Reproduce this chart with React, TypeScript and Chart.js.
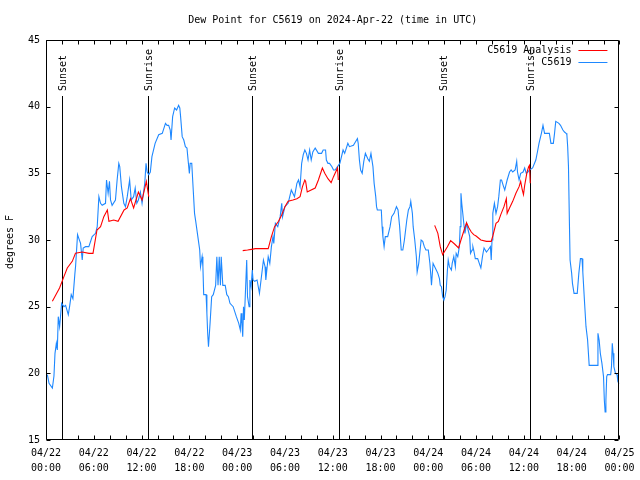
import React, { useEffect, useRef } from "react";
import { Chart, registerables } from "chart.js";

Chart.register(...registerables);

const titleText = "Dew Point for C5619 on 2024-Apr-22 (time in UTC)";
const yTitle = "degrees F";
const seriesNames = ["C5619 Analysis", "C5619"];
const seriesColors = ["#ff0000", "#1e88ff"];

const dateLabels = ["04/22", "04/22", "04/22", "04/22", "04/23", "04/23", "04/23", "04/23", "04/24", "04/24", "04/24", "04/24", "04/25"];
const timeLabels = ["00:00", "06:00", "12:00", "18:00", "00:00", "06:00", "12:00", "18:00", "00:00", "06:00", "12:00", "18:00", "00:00"];

const eventHours = [1.96, 12.75, 25.9, 36.75, 49.9, 60.8];
const eventLabels = ["Sunset", "Sunrise", "Sunset", "Sunrise", "Sunset", "Sunrise"];

// observed dew point (hours since 04/22 00:00 UTC, degrees F)
const obsHours = [
  0.17, 0.38, 0.8, 1.0, 1.13, 1.3, 1.42, 1.54, 1.71, 1.96, 2.25, 2.46, 2.8, 2.96, 3.17, 3.38, 3.63, 3.71, 3.96, 4.13,
  4.34, 4.55, 4.67, 4.97, 5.38, 5.8, 6.22, 6.43, 6.64, 6.85, 7.05, 7.47, 7.6, 7.8, 7.97, 8.1, 8.3, 8.72, 8.93, 9.14,
  9.26, 9.47, 9.77, 9.98, 10.2, 10.5, 10.7, 11.0, 11.2, 11.4, 11.6, 11.85, 12.06, 12.4, 12.56, 12.7, 12.9, 13.1, 13.3, 13.7,
  14.15, 14.6, 15.0, 15.2, 15.4, 15.6, 15.7, 15.9, 16.15, 16.4, 16.65, 16.8, 16.9, 17.1, 17.3, 17.5, 17.7, 17.8, 18.0, 18.1,
  18.3, 18.5, 18.65, 18.8, 19.1, 19.3, 19.4, 19.6, 19.7, 19.8, 20.1, 20.2, 20.3, 20.4, 20.6, 20.8, 21.0, 21.3, 21.45, 21.6,
  21.75, 21.9, 22.0, 22.2, 22.5, 22.7, 22.9, 23.1, 23.5, 23.9, 24.2, 24.4, 24.5, 24.6, 24.7, 24.8, 24.9, 25.1, 25.2, 25.3,
  25.5, 25.6, 25.75, 25.9, 26.0, 26.2, 26.5, 26.8, 27.3, 27.5, 27.6, 27.9, 28.1, 28.3, 28.5, 28.6, 28.8, 29.1, 29.4, 29.6,
  29.7, 30.0, 30.4, 30.8, 31.2, 31.5, 31.7, 31.9, 32.1, 32.3, 32.5, 32.7, 32.9, 33.1, 33.3, 33.5, 33.8, 34.2, 34.6, 34.8,
  35.1, 35.2, 35.4, 35.6, 35.9, 36.1, 36.3, 36.6, 36.9, 37.3, 37.5, 37.9, 38.1, 38.6, 38.9, 39.1, 39.2, 39.35, 39.5, 39.7,
  39.9, 40.1, 40.4, 40.6, 40.8, 41.05, 41.2, 41.4, 41.5, 41.6, 42.1, 42.2, 42.3, 42.45, 42.6, 42.9, 43.2, 43.4, 43.7, 44.0,
  44.2, 44.4, 44.6, 44.8, 45.0, 45.3, 45.5, 45.7, 45.8, 46.0, 46.1, 46.3, 46.5, 46.6, 46.8, 47.1, 47.3, 47.5, 47.7, 48.0,
  48.2, 48.3, 48.4, 48.6, 48.8, 49.0, 49.2, 49.4, 49.5, 49.65, 49.8, 49.96, 50.1, 50.25, 50.4, 50.5, 50.65, 50.9, 51.0, 51.2,
  51.4, 51.5, 51.7, 51.9, 52.0, 52.1, 52.2, 52.5, 52.6, 52.8, 53.0, 53.2, 53.3, 53.5, 53.6, 53.7, 53.9, 54.2, 54.4, 54.6,
  54.8, 54.9, 55.0, 55.3, 55.5, 55.8, 55.9, 56.0, 56.1, 56.3, 56.5, 56.7, 56.85, 57.05, 57.2, 57.4, 57.6, 57.7, 57.9, 58.2,
  58.4, 58.6, 58.9, 59.1, 59.2, 59.4, 59.6, 59.9, 60.1, 60.3, 60.5, 60.7, 61.1, 61.5, 61.7, 61.9, 62.2, 62.4, 62.6, 63.0,
  63.2, 63.4, 63.7, 63.85, 64.0, 64.4, 64.6, 64.9, 65.1, 65.3, 65.4, 65.5, 65.6, 65.7, 65.8, 66.0, 66.1, 66.3, 66.7, 66.9,
  67.1, 67.3, 67.4, 67.6, 67.8, 68.0, 68.2, 68.6, 69.0, 69.2, 69.3, 69.45, 69.6, 69.8, 70.0, 70.1, 70.2, 70.3, 70.4, 70.5,
  70.9, 71.0, 71.1, 71.2, 71.3, 71.5, 71.7, 71.8, 71.95,
];
const obsValues = [
  19.9, 19.25, 18.9, 19.8, 21.5, 22.25, 21.75, 24.25, 23.5, 25.25, 25.0, 25.1, 24.4, 25.0, 25.9, 25.6, 27.5, 28.0, 30.4, 30.1,
  29.75, 28.5, 29.4, 29.5, 29.5, 30.25, 30.5, 31.0, 33.25, 32.75, 32.6, 32.75, 34.5, 33.5, 34.4, 33.0, 32.6, 33.0, 34.5, 35.75,
  35.5, 34.0, 32.75, 32.5, 33.25, 34.5, 33.0, 33.25, 33.9, 32.75, 33.0, 33.6, 32.75, 34.25, 35.75, 35.1, 34.9, 35.1, 36.25, 37.25,
  37.9, 38.0, 38.75, 38.6, 38.6, 38.25, 37.5, 39.25, 39.9, 39.75, 40.1, 39.9, 39.25, 37.75, 37.5, 37.0, 36.9, 36.25, 35.0, 35.75,
  35.75, 33.6, 32.0, 31.4, 30.1, 29.25, 28.0, 28.75, 28.0, 25.9, 25.9, 24.5, 23.0, 22.0, 23.75, 25.75, 25.9, 26.6, 28.75, 26.6,
  28.75, 26.6, 28.75, 26.6, 26.6, 25.9, 25.75, 25.25, 25.0, 24.25, 23.75, 23.25, 24.5, 23.75, 22.75, 25.0, 24.0, 27.0, 28.5, 25.75,
  25.0, 27.0, 26.5, 27.75, 27.0, 26.9, 27.0, 26.0, 28.5, 28.0, 27.0, 28.75, 28.25, 29.5, 30.25, 29.75, 31.25, 31.0, 31.75, 32.75,
  31.75, 32.5, 32.75, 33.75, 33.25, 34.25, 34.5, 34.0, 35.75, 36.4, 36.75, 36.5, 36.0, 36.75, 36.0, 36.6, 36.9, 36.5, 36.5, 36.75,
  36.75, 36.0, 35.75, 35.75, 35.5, 35.25, 35.25, 35.5, 35.75, 36.75, 36.5, 37.25, 37.0, 37.1, 37.4, 37.6, 37.25, 36.0, 35.25, 35.0,
  35.9, 36.5, 36.1, 35.9, 36.5, 35.5, 34.25, 33.25, 32.5, 32.25, 32.25, 31.0, 30.25, 29.5, 30.25, 30.25, 31.0, 31.75, 32.0, 32.5,
  32.25, 31.0, 29.25, 29.25, 30.0, 31.5, 32.25, 32.5, 32.9, 32.0, 31.0, 30.0, 28.75, 27.6, 28.25, 30.0, 29.9, 29.5, 29.25, 29.25,
  28.25, 27.5, 26.6, 28.25, 28.0, 27.75, 27.5, 27.1, 26.6, 26.5, 25.75, 25.5, 25.75, 26.25, 27.75, 28.5, 28.0, 27.75, 28.25, 28.75,
  28.0, 29.0, 28.75, 29.5, 31.0, 33.5, 32.75, 31.0, 30.5, 31.25, 30.75, 30.25, 29.0, 29.25, 29.5, 29.25, 28.6, 28.6, 28.25, 27.9,
  28.75, 29.1, 29.4, 29.1, 29.25, 29.5, 28.5, 30.0, 32.0, 32.75, 32.0, 32.5, 33.25, 34.5, 34.5, 34.1, 33.75, 34.0, 34.5, 35.1,
  35.25, 35.1, 35.25, 35.9, 35.1, 34.5, 35.0, 35.1, 35.4, 35.0, 35.1, 35.25, 35.4, 36.0, 36.6, 37.25, 38.0, 38.6, 38.0, 38.0,
  38.0, 37.25, 37.25, 38.0, 38.9, 38.75, 38.6, 38.25, 38.1, 38.0, 37.9, 37.0, 35.5, 31.9, 28.5, 27.5, 26.75, 26.0, 26.0, 27.5,
  28.6, 28.6, 27.6, 25.5, 23.5, 22.5, 20.6, 20.6, 20.6, 20.6, 23.0, 22.5, 21.5, 20.75, 19.75, 18.0, 17.1, 18.0, 19.75, 19.9,
  19.9, 20.5, 22.25, 21.5, 20.5, 20.0, 19.9, 19.4, 19.2,
];

// analysis dew point; null marks the gaps between analysis segments
const anaHours = [
  0.8, 1.7, 2.25, 2.67, 3.3, 3.7, 4.55, 5.4, 5.9, 6.4, 6.85, 7.26, 7.7, 7.9, 8.5, 9.05, 9.8, 10.2, 10.6, 11.0, 11.6, 12.06, 12.6, 12.9,
  18.0,
  24.7, 25.3, 25.8, 26.3, 27.9, 28.3, 28.7, 29.2, 29.6, 30.0, 30.4, 31.0, 31.5, 31.9, 32.2, 32.5, 32.6, 32.8, 33.1, 33.8, 34.2, 34.7, 35.0, 35.4, 35.8, 36.1, 36.6, 36.7,
  42.0,
  48.8, 49.2, 49.5, 49.8, 50.0, 50.4, 50.8, 51.3, 51.8, 52.1, 52.5, 52.8, 53.1, 53.4, 53.7, 54.0, 54.6, 55.3, 55.9, 56.1, 56.5, 56.8, 57.1, 57.5, 57.8, 57.9, 58.2, 58.6, 59.0, 59.4, 59.6, 59.8, 59.95, 60.1, 60.4, 60.6, 60.7, 60.8,
];
const anaValues = [
  25.4, 26.4, 27.25, 27.9, 28.4, 29.0, 29.1, 29.0, 29.0, 30.75, 31.0, 31.75, 32.25, 31.4, 31.5, 31.4, 32.25, 32.4, 33.1, 32.4, 33.6, 33.0, 34.4, 33.25,
  null,
  29.2, 29.25, 29.3, 29.35, 29.35, 30.25, 31.0, 31.4, 31.9, 32.5, 32.9, 33.0, 33.1, 33.25, 34.0, 34.5, 34.4, 33.6, 33.7, 33.9, 34.5, 35.4, 35.0, 34.6, 34.3, 34.75, 35.4, 34.5,
  null,
  31.1, 30.5, 29.5, 28.9, 29.1, 29.5, 29.95, 29.7, 29.4, 30.0, 30.75, 31.3, 30.9, 30.6, 30.4, 30.3, 30.0, 29.9, 29.9, 30.3, 31.25, 31.4, 31.9, 32.5, 33.1, 32.0, 32.4, 32.9, 33.5, 34.0, 34.4, 33.75, 33.4, 34.1, 35.1, 35.5, 35.6, 34.25,
];

const FONT = "'DejaVu Sans Mono', 'Liberation Mono', monospace";

const overlay = {
  id: "overlay",
  beforeDatasetsDraw(chart: any) {
    const { ctx, chartArea: a, scales } = chart;
    const x = scales.x;
    ctx.save();
    ctx.strokeStyle = "#000";
    ctx.fillStyle = "#000";
    ctx.lineWidth = 1;
    ctx.font = `10px ${FONT}`;
    eventHours.forEach((h, i) => {
      const px = Math.round(x.getPixelForValue(h)) + 0.5;
      ctx.beginPath();
      ctx.moveTo(px, a.top + 56);
      ctx.lineTo(px, a.bottom);
      ctx.stroke();
      ctx.save();
      ctx.translate(px + 1, a.top + 51);
      ctx.rotate(-Math.PI / 2);
      ctx.textAlign = "left";
      ctx.textBaseline = "middle";
      ctx.fillText(eventLabels[i], 0, 0);
      ctx.restore();
    });
    ctx.restore();
  },
  afterDatasetsDraw(chart: any) {
    const { ctx, chartArea: a, scales } = chart;
    const x = scales.x;
    const y = scales.y;
    ctx.save();
    ctx.strokeStyle = "#000";
    ctx.lineWidth = 1;
    const L = Math.round(a.left) + 0.5;
    const R = Math.round(a.right) - 0.5;
    const T = Math.round(a.top) + 0.5;
    const B = Math.round(a.bottom) - 0.5;
    ctx.beginPath();
    ctx.rect(L, T, R - L, B - T);
    ctx.stroke();
    ctx.beginPath();
    for (let h = 0; h <= 72; h += 2) {
      const px = Math.round(x.getPixelForValue(h)) + 0.5;
      ctx.moveTo(px, B);
      ctx.lineTo(px, B - 4);
      ctx.moveTo(px, T);
      ctx.lineTo(px, T + 4);
    }
    for (let v = 15; v <= 45; v += 5) {
      const py = Math.round(y.getPixelForValue(v)) + 0.5;
      ctx.moveTo(L, py);
      ctx.lineTo(L + 4, py);
      ctx.moveTo(R, py);
      ctx.lineTo(R - 4, py);
    }
    ctx.stroke();

    ctx.fillStyle = "#000";
    ctx.font = `10px ${FONT}`;
    ctx.textAlign = "center";
    ctx.textBaseline = "middle";
    ctx.fillText(titleText, (a.left + a.right) / 2, 20.5);

    ctx.save();
    ctx.translate(10, (a.top + a.bottom) / 2 + 2);
    ctx.rotate(-Math.PI / 2);
    ctx.fillText(yTitle, 0, 0);
    ctx.restore();

    ctx.textAlign = "right";
    seriesNames.forEach((name, i) => {
      const ly = a.top + 10 + i * 12;
      ctx.fillStyle = "#000";
      ctx.fillText(name, a.right - 48, ly);
      ctx.strokeStyle = seriesColors[i];
      ctx.beginPath();
      ctx.moveTo(a.right - 41, Math.round(ly) + 0.5);
      ctx.lineTo(a.right - 12, Math.round(ly) + 0.5);
      ctx.stroke();
    });
    ctx.restore();
  },
};

export default function App() {
  const ref = useRef<HTMLCanvasElement>(null);
  useEffect(() => {
    if (!ref.current) return;
    const chart = new Chart(ref.current, {
      type: "line",
      data: {
        datasets: [
          {
            label: seriesNames[0],
            data: anaHours.map((h, i) => ({ x: h, y: anaValues[i] })),
            borderColor: seriesColors[0],
            borderWidth: 1.1,
            pointRadius: 0,
            spanGaps: false,
            tension: 0,
          },
          {
            label: seriesNames[1],
            data: obsHours.map((h, i) => ({ x: h, y: obsValues[i] })),
            borderColor: seriesColors[1],
            borderWidth: 1.1,
            pointRadius: 0,
            tension: 0,
          },
        ],
      } as any,
      options: {
        animation: false,
        responsive: false,
        devicePixelRatio: 1,
        layout: { padding: { top: 40, right: 18, left: 0, bottom: 0 } },
        plugins: { legend: { display: false }, title: { display: false }, tooltip: { enabled: false } },
        scales: {
          x: {
            type: "linear",
            min: 0,
            max: 72,
            grid: { display: false, drawTicks: false },
            border: { display: false },
            ticks: {
              stepSize: 6,
              autoSkip: false,
              maxRotation: 0,
              minRotation: 0,
              padding: 5.5,
              color: "#000",
              font: { family: FONT, size: 10, lineHeight: 1.5 },
              callback: (v: any) => {
                const i = Math.round(Number(v) / 6);
                return [dateLabels[i], timeLabels[i]];
              },
            },
            afterFit: (s: any) => {
              s.height = 40;
            },
          },
          y: {
            min: 15,
            max: 45,
            grid: { display: false, drawTicks: false },
            border: { display: false },
            ticks: {
              stepSize: 5,
              padding: 6,
              color: "#000",
              font: { family: FONT, size: 10 },
            },
            afterFit: (s: any) => {
              s.width = 46;
            },
          },
        },
      },
      plugins: [overlay],
    });
    return () => chart.destroy();
  }, []);
  return (
    <div style={{ position: "fixed", left: 0, top: 0, width: 640, height: 480, background: "#fff" }}>
      <canvas ref={ref} width={640} height={480} />
    </div>
  );
}
